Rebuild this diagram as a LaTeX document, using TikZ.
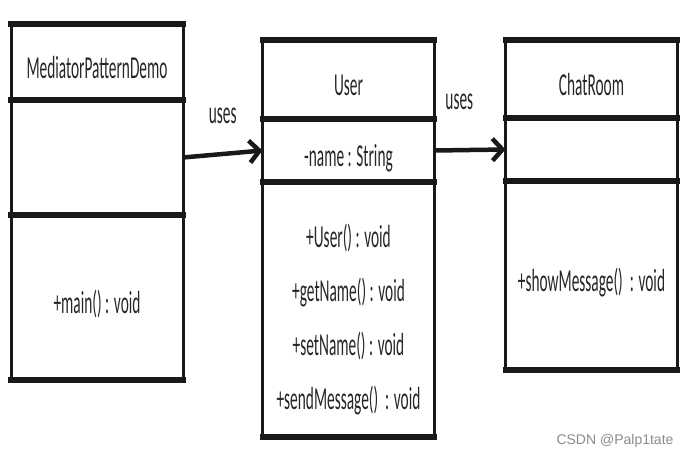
\documentclass[tikz,border=0pt]{standalone}
\usepackage{fontspec}
\setmainfont{Carlito}[FakeStretch=0.48]
\newfontfamily\markfont{Liberation Sans}
\usetikzlibrary{positioning, arrows.meta}

\begin{document}
\begin{tikzpicture}[x=1pt,y=-1pt,
  part/.style={draw=black!90,line width=3pt,minimum width=172pt,inner sep=0pt,outer sep=0pt,
    font=\fontsize{32}{54}\selectfont,text=black!85,align=center},
  oneline/.style={text height=40pt,text depth=8pt},
  rule/.style={line width=5.5pt,black!90,line cap=rect},
  uses/.style={line width=4.5pt,black!90,-{Straight Barb[length=10pt,width=22pt]}},
  lbl/.style={font=\fontsize{32}{36}\selectfont,text=black!85,inner sep=0pt}]
\useasboundingbox (0,0) rectangle (691,458);

\node[part,oneline,minimum height=76pt] (demotop) at (97,62) {MediatorPatternDemo};
\node[part,minimum height=115pt,below=0pt of demotop] (demoattr) {};
\node[part,oneline,minimum height=165pt,below=0pt of demoattr] (demoops) {+main() : void};

\node[part,oneline,minimum height=79pt] (usertop) at (348.5,79.5) {User};
\node[part,oneline,minimum height=63pt,below=0pt of usertop] (userattr) {-name : String};
\node[part,minimum height=255pt,below=0pt of userattr] (userops)
  {\rule{0pt}{43pt}+User() : void\\+getName() : void\\+setName() : void\\+sendMessage()~~: void};

\node[part,oneline,minimum height=78pt] (chattop) at (591.5,79) {ChatRoom};
\node[part,minimum height=63pt,below=0pt of chattop] (chatattr) {};
\node[part,oneline,minimum height=189pt,below=0pt of chatattr] (chatops) {+showMessage()~~: void};

\foreach \n in {demotop,demoattr,demoops,usertop,userattr,userops,chattop,chatattr,chatops}
  \draw[rule] (\n.north west) -- (\n.north east) (\n.south west) -- (\n.south east);

\draw[uses] (demoattr.east) -- node[lbl,midway,above=28pt]{uses} (userattr.west);
\draw[uses] (userattr.east) -- node[lbl,pos=0.35,above=38pt]{uses} (chatattr.west);

\node[font=\markfont\fontsize{14}{16}\selectfont,text=black!45,anchor=east] (mark) at (677,441) {CSDN @Palp1tate};
\end{tikzpicture}
\end{document}
